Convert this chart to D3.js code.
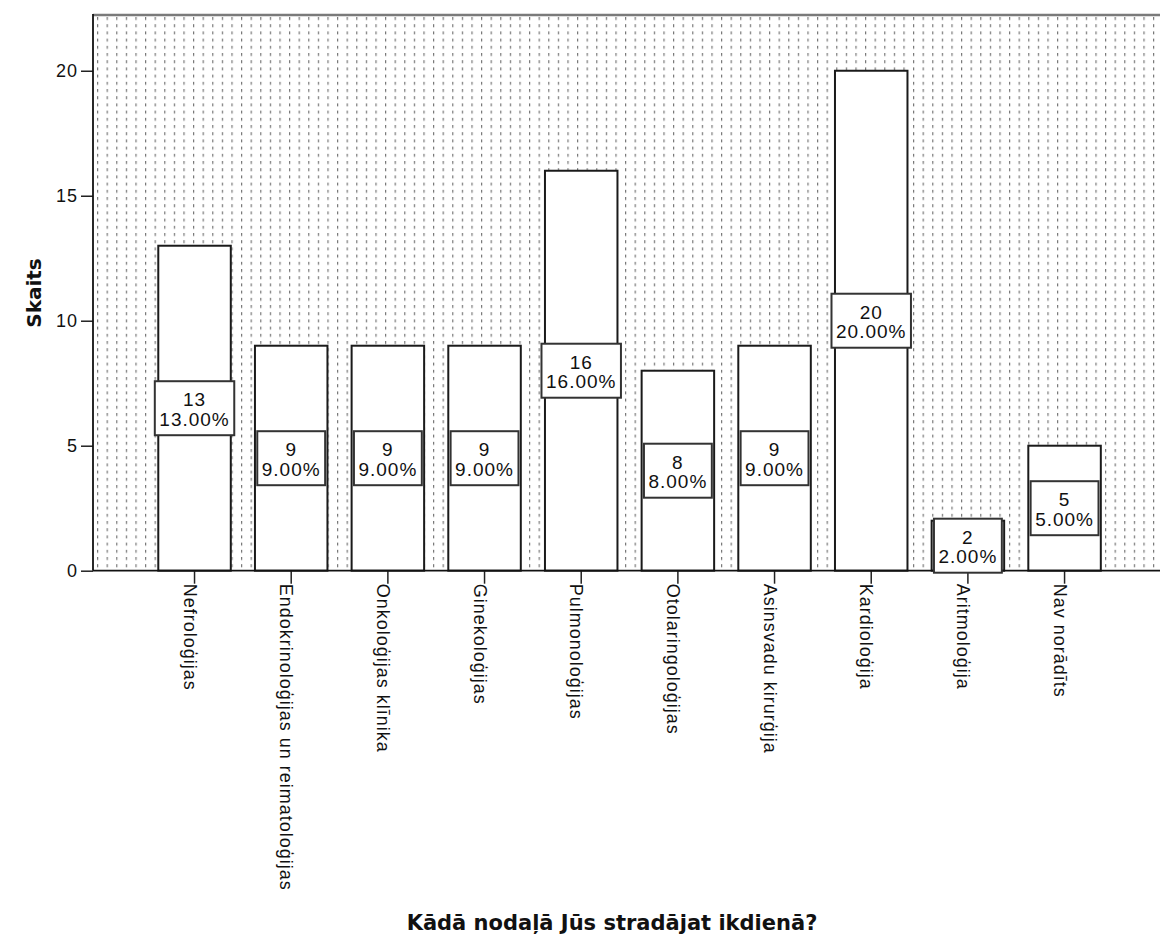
<!DOCTYPE html>
<html>
<head>
<meta charset="utf-8">
<script src="https://cdn.jsdelivr.net/npm/d3@7"></script>
<style>
  body { margin: 0; background: #fff; }
  text { font-family: "Liberation Sans", Arial, sans-serif; }
</style>
</head>
<body>
<svg id="chart" width="1160" height="937"></svg>
<script>
const categories = [
  "Nefroloģijas",
  "Endokrinoloģijas un reimatoloģijas",
  "Onkoloģijas klīnika",
  "Ginekoloģijas",
  "Pulmonoloģijas",
  "Otolaringoloģijas",
  "Asinsvadu kirurģija",
  "Kardioloģija",
  "Aritmoloģija",
  "Nav norādīts"
];
const counts = [13, 9, 9, 9, 16, 8, 9, 20, 2, 5];
const yTicks = [0, 5, 10, 15, 20];
const yMax = 22.23;
const xTitle = "Kādā nodaļā Jūs stradājat ikdienā?";
const yTitle = "Skaits";

const plot = {left: 93, top: 15, right: 1160, bottom: 570.7};
const total = d3.sum(counts);

const svg = d3.select("#chart");

// dotted background like the SPSS chart
const defs = svg.append("defs");
const pat = defs.append("pattern")
  .attr("id", "dots")
  .attr("patternUnits", "userSpaceOnUse")
  .attr("x", 97)
  .attr("y", 17)
  .attr("width", 9.6)
  .attr("height", 7.2);
pat.append("rect").attr("width", 9.6).attr("height", 7.2).attr("fill", "#fff");
pat.append("rect").attr("x", 0).attr("y", 0).attr("width", 1.2).attr("height", 3).attr("fill", "#777");

const x = d3.scaleBand()
  .domain(categories)
  .range([146.2, 1112.9])
  .paddingInner(0.25)
  .paddingOuter(0.125);

const y = d3.scaleLinear()
  .domain([0, yMax])
  .range([plot.bottom, plot.top]);

svg.append("rect")
  .attr("x", plot.left)
  .attr("y", plot.top)
  .attr("width", plot.right - plot.left)
  .attr("height", plot.bottom - plot.top)
  .attr("fill", "url(#dots)");

// top frame line
svg.append("line")
  .attr("x1", plot.left).attr("x2", plot.right)
  .attr("y1", plot.top).attr("y2", plot.top)
  .attr("stroke", "#7a7a7a")
  .attr("stroke-width", 2.5);

const data = categories.map((c, i) => ({cat: c, n: counts[i]}));

svg.append("g")
  .selectAll("rect")
  .data(data)
  .join("rect")
  .attr("x", d => x(d.cat))
  .attr("y", d => y(d.n))
  .attr("width", x.bandwidth())
  .attr("height", d => y(0) - y(d.n))
  .attr("fill", "#fff")
  .attr("stroke", "#1a1a1a")
  .attr("stroke-width", 2);

// y axis
const yAxis = svg.append("g")
  .attr("transform", `translate(${plot.left},0)`)
  .call(d3.axisLeft(y).tickValues(yTicks).tickSize(12).tickPadding(3).tickFormat(d3.format("d")));
yAxis.select(".domain").remove();
yAxis.selectAll(".tick line").attr("stroke", "#222").attr("stroke-width", 1.5);
yAxis.selectAll(".tick text")
  .attr("font-size", 18)
  .attr("letter-spacing", 1)
  .attr("fill", "#111");

svg.append("line")
  .attr("x1", plot.left).attr("x2", plot.left)
  .attr("y1", plot.top - 1).attr("y2", plot.bottom)
  .attr("stroke", "#111")
  .attr("stroke-width", 1.8);

// x axis
const xAxis = svg.append("g")
  .attr("transform", `translate(0,${plot.bottom})`)
  .call(d3.axisBottom(x).tickSize(13).tickFormat(""));
xAxis.select(".domain").remove();
xAxis.selectAll(".tick line").attr("stroke", "#222").attr("stroke-width", 1.5);

svg.append("line")
  .attr("x1", plot.left).attr("x2", plot.right)
  .attr("y1", plot.bottom).attr("y2", plot.bottom)
  .attr("stroke", "#111")
  .attr("stroke-width", 1.8);

svg.append("g")
  .selectAll("text")
  .data(categories)
  .join("text")
  .attr("transform", d => `translate(${x(d) + x.bandwidth() / 2 - 11},${plot.bottom + 13}) rotate(90)`)
  .attr("font-size", 18)
  .attr("letter-spacing", 1)
  .attr("fill", "#111")
  .text(d => d);

// value labels in the middle of each bar
const fmtPct = d3.format(".2f");
const labels = svg.append("g")
  .selectAll("g")
  .data(data)
  .join("g")
  .attr("transform", d => `translate(${x(d.cat) + x.bandwidth() / 2},${y(d.n / 2)})`);

labels.each(function (d) {
  const g = d3.select(this);
  const box = g.append("rect");
  const t1 = g.append("text")
    .attr("y", -2)
    .attr("text-anchor", "middle")
    .attr("font-size", 19)
    .attr("letter-spacing", 1)
    .attr("fill", "#111")
    .text(d.n);
  const t2 = g.append("text")
    .attr("y", 17.5)
    .attr("text-anchor", "middle")
    .attr("font-size", 19)
    .attr("letter-spacing", 1)
    .attr("fill", "#111")
    .text(fmtPct(d.n / total * 100) + "%");
  const w = Math.max(t1.node().getComputedTextLength(), t2.node().getComputedTextLength()) + 9;
  box.attr("x", -w / 2)
    .attr("y", -27)
    .attr("width", w)
    .attr("height", 54)
    .attr("fill", "#fff")
    .attr("stroke", "#333")
    .attr("stroke-width", 2);
});

// titles
svg.append("text")
  .attr("x", 612)
  .attr("y", 930)
  .attr("text-anchor", "middle")
  .attr("font-size", 21)
  .attr("font-weight", "bold")
  .style("font-family", "'DejaVu Sans', Verdana, sans-serif")
  .attr("fill", "#111")
  .text(xTitle);

svg.append("text")
  .attr("transform", "translate(41,293) rotate(-90)")
  .attr("text-anchor", "middle")
  .attr("font-size", 20)
  .attr("font-weight", "bold")
  .style("font-family", "'DejaVu Sans', Verdana, sans-serif")
  .attr("fill", "#111")
  .text(yTitle);
</script>
</body>
</html>
